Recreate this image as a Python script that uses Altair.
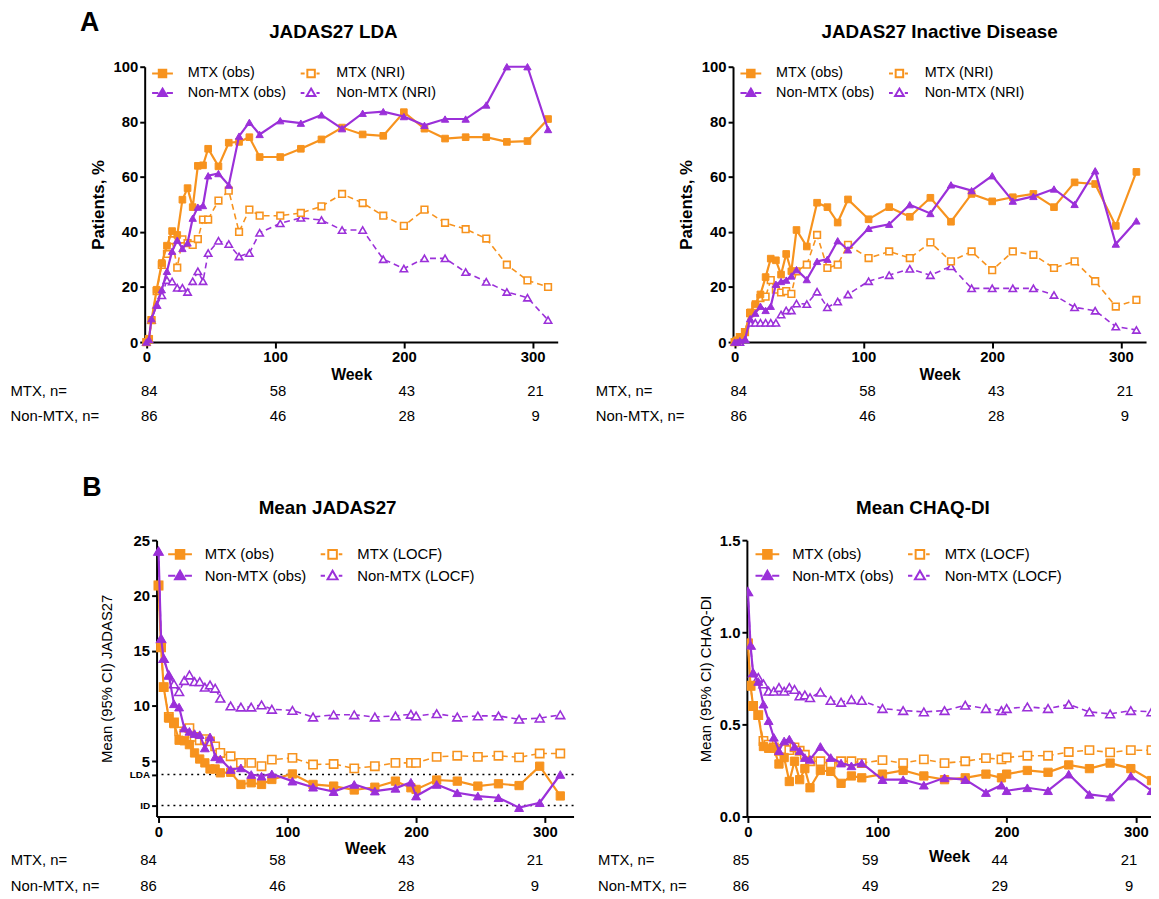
import altair as alt
import pandas as pd

FONT = "Arial"
ORANGE = "#F7931E"
PURPLE = "#9B30D9"
BLACK = "#000000"

# ---------------- data ----------------
WEEKS_A = [0, 2, 4, 8, 12, 16, 20, 24, 28, 32, 36, 40, 44, 48, 56, 64, 72, 80, 88,
           104, 120, 136, 152, 168, 184, 200, 216, 232, 248, 264, 280, 296, 312]
WEEKS_B = [0, 2, 4, 8, 12, 16, 20, 24, 28, 32, 36, 40, 44, 48, 56, 64, 72, 80, 88,
           104, 120, 136, 152, 168, 184, 196, 200, 216, 232, 248, 264, 280, 296, 312]

LDA_MTX_OBS = [0, 1.2, 8, 19, 28.7, 35, 40.3, 38.9, 51.7, 55.9, 49, 64, 64.2, 70.2, 63.8,
               72.4, 72.7, 74.4, 67.2, 67.2, 70.2, 73.6, 77.9, 75.4, 74.9, 83.5, 77.5, 73.9,
               74.4, 74.4, 72.7, 73, 81]
LDA_NON_OBS = [0, 1, 8.5, 13.4, 19, 25.7, 33, 37, 34, 36, 45, 49, 49.6, 60.4, 61.2, 57,
               74.8, 79.8, 75.4, 80.4, 79.5, 82.5, 77.5, 83.1, 83.7, 81.9, 78.7, 81, 81,
               86.1, 100, 100, 77.2]
LDA_MTX_NRI = [0, 1, 8, 18.5, 28, 32, 37, 27, 37.3, 35.9, 35.3, 37.4, 44.5, 44.5, 51.4, 55,
               40, 48.1, 45.9, 45.9, 46.9, 49.3, 53.8, 50.5, 45.9, 42.2, 48.1, 43.3, 41,
               37.6, 28.1, 22.4, 20]
LDA_NON_NRI = [0, 1, 8, 13.5, 17, 22.5, 22, 19.7, 19.7, 18.2, 22.1, 25.7, 22.1, 32.3, 36.8,
               35.6, 31.1, 32.3, 39.7, 43.1, 45.1, 44.3, 40.7, 40.7, 30.1, 26.7, 30.4, 30.4,
               25.4, 21.9, 18.2, 16.1, 8]

ID_MTX_OBS = [0, 0.5, 1.8, 3.6, 10.8, 13.8, 17.3, 23.6, 30.3, 29.7, 24.5, 32, 25.7, 40.7,
              34.7, 50.6, 49, 43.4, 51.8, 44.6, 49, 45.5, 52.4, 43.7, 53.8, 51.1, 52.6, 53.8,
              49, 58, 57.4, 42.2, 61.8]
ID_NON_OBS = [0, 0, 0.5, 1, 8.5, 10.5, 13, 11.5, 13, 21, 22, 22.5, 24, 26.3, 22.7, 29.3,
              30.1, 36.8, 33.5, 41.3, 42.8, 49.9, 46.7, 57.1, 55, 60.4, 51.2, 52.9, 55.6, 50,
              62.2, 35.6, 44]
ID_MTX_NRI = [0, 0.5, 1.8, 3.6, 10.5, 13, 16, 16.5, 22.5, 19, 18, 18.5, 17.5, 25.7, 28.1,
              38.9, 26.9, 28.1, 35.3, 30.5, 32.9, 30.5, 36.2, 29.3, 32.9, 26.1, 32.9, 31.7,
              26.9, 29.3, 22.1, 12.9, 15.3]
ID_NON_NRI = [0, 0, 0, 1, 7, 7, 7, 7, 7, 7, 10, 11.5, 11.5, 14, 13.8, 18.3, 12.6, 14.7,
              17.3, 22.1, 24.3, 26.6, 24.3, 27.5, 19.5, 19.5, 19.5, 19.5, 17.1, 12.6, 11.4,
              5.6, 4.4]

JAD_MTX_OBS = [20.9, 15.3, 11.7, 8.9, 8.4, 6.9, 6.85, 6.5, 5.75, 5.2, 4.85, 4.3, 4.3, 3.95,
               4.0, 2.9, 3.05, 2.9, 3.35, 3.85, 2.9, 2.75, 2.4, 2.65, 3.2, 2.6, 2.45, 3.3,
               3.2, 2.75, 2.96, 2.8, 4.55, 1.86]
JAD_NON_OBS = [24, 16.1, 14.3, 12.8, 10.2, 9.9, 8.0, 7.7, 7.5, 7.4, 6.2, 7.2, 5.4, 5.2,
               4.25, 4.4, 3.8, 3.65, 3.85, 3.2, 2.65, 2.25, 2.9, 2.3, 2.55, 3.1, 1.85, 2.9,
               2.15, 1.85, 1.7, 0.8, 1.25, 3.8]
JAD_MTX_LOCF = [20.9, 15.3, 11.7, 9.0, 8.5, 7.7, 7.5, 8.0, 7.2, 6.9, 7.0, 6.8, 6.35, 5.75,
                5.45, 4.85, 4.85, 4.55, 5.15, 5.3, 4.7, 4.75, 4.35, 4.55, 4.85, 4.85, 4.85,
                5.4, 5.5, 5.4, 5.5, 5.35, 5.7, 5.7]
JAD_NON_LOCF = [24, 16.1, 14.3, 12.8, 12.0, 11.3, 12.3, 12.8, 12.2, 12.2, 11.7, 11.9, 11.6,
                10.7, 10.0, 9.9, 9.9, 10.1, 9.7, 9.6, 9.0, 9.2, 9.2, 9.0, 9.1, 9.25, 9.1,
                9.3, 9.0, 9.1, 9.1, 8.8, 8.9, 9.2]

CHQ_MTX_OBS = [0.94, 0.71, 0.60, 0.55, 0.38, 0.37, 0.37, 0.285, 0.32, 0.19, 0.30, 0.20,
               0.26, 0.156, 0.25, 0.245, 0.18, 0.22, 0.21, 0.23, 0.25, 0.22, 0.20, 0.21,
               0.23, 0.21, 0.23, 0.25, 0.24, 0.28, 0.26, 0.29, 0.26, 0.195]
CHQ_NON_OBS = [1.22, 0.93, 0.78, 0.733, 0.61, 0.52, 0.43, 0.357, 0.41, 0.42, 0.38, 0.357,
               0.32, 0.31, 0.38, 0.32, 0.29, 0.275, 0.29, 0.20, 0.20, 0.17, 0.21, 0.20,
               0.13, 0.17, 0.14, 0.156, 0.14, 0.23, 0.12, 0.106, 0.22, 0.14]
CHQ_MTX_LOCF = [0.94, 0.71, 0.60, 0.55, 0.41, 0.39, 0.375, 0.357, 0.366, 0.36, 0.375, 0.357,
                0.335, 0.30, 0.30, 0.285, 0.30, 0.30, 0.29, 0.306, 0.29, 0.31, 0.29, 0.30,
                0.317, 0.31, 0.32, 0.33, 0.33, 0.35, 0.36, 0.348, 0.36, 0.36]
CHQ_NON_LOCF = [1.22, 0.93, 0.78, 0.755, 0.72, 0.68, 0.68, 0.70, 0.68, 0.70, 0.69, 0.655,
                0.66, 0.645, 0.675, 0.63, 0.62, 0.635, 0.63, 0.586, 0.575, 0.568, 0.575,
                0.604, 0.586, 0.575, 0.586, 0.595, 0.586, 0.608, 0.568, 0.557, 0.575, 0.568]

N_WEEKS = [0, 100, 200, 300]
N_A_MTX = [84, 58, 43, 21]
N_A_NON = [86, 46, 28, 9]
N_CHQ_MTX = [85, 59, 44, 21]
N_CHQ_NON = [86, 49, 29, 9]
THRESHOLDS = [1, 3.8]

# legend symbols: line + marker drawn as one custom path (unit square coords)
SQ_OBS = "M-1,0H-0.36M0.36,0H1M-0.36,-0.36H0.36V0.36H-0.36Z"
SQ_IMP = "M-1,0H-0.62M0.52,0H0.82M-0.36,-0.36H0.36V0.36H-0.36Z"
TRI_OBS = "M-1,0H-0.4M0.4,0H1M0,-0.42L0.42,0.3H-0.42Z"
TRI_IMP = "M-1,0H-0.64M0.52,0H0.82M0,-0.42L0.42,0.3H-0.42Z"


def make_df(weeks, values):
    return pd.DataFrame({"week": weeks, "value": values})


def panel(weeks, mtx_obs, non_obs, mtx_imp, non_imp, imp_tag, width, height, xdom, ydom,
          yaxis_kw, title, title_pos, week_title_y, n_mtx, n_non, n_dx, n_y,
          row_x, legend_x, legend_y, sym_size, label_size, label_offset, col_pad,
          msize_sq, msize_tri, clip=False, letter=None, thresholds=None):
    x = alt.X("week:Q", scale=alt.Scale(domain=xdom, nice=False, zero=False),
              axis=alt.Axis(values=N_WEEKS, title="Week", titleFontSize=16,
                            titleFontWeight="bold", titleBaseline="middle",
                            titleY=week_title_y, labelFontSize=15, labelFontWeight="bold",
                            labelPadding=2, tickSize=6, tickWidth=2, domainWidth=2,
                            labelFlush=False, labelOverlap=False))
    y = alt.Y("value:Q", scale=alt.Scale(domain=ydom, nice=False, zero=False),
              axis=alt.Axis(**yaxis_kw))
    mk = {"clip": True} if clip else {}

    def line(vals, color, dashed):
        kw = dict(color=color, strokeWidth=1.6 if dashed else 2.2, **mk)
        if dashed:
            kw["strokeDash"] = [6, 4]
        return alt.Chart(make_df(weeks, vals)).mark_line(**kw).encode(x=x, y=y)

    def pts(vals, color, shape, filled, size):
        return alt.Chart(make_df(weeks, vals)).mark_point(
            shape=shape, filled=True, fill=color if filled else "white", stroke=color,
            strokeWidth=1 if filled else 1.6, size=size, opacity=1, **mk).encode(x=x, y=y)

    layers = []
    if thresholds:
        layers.append(alt.Chart(pd.DataFrame({"value": thresholds})).mark_rule(
            color=BLACK, strokeDash=[2, 4], strokeWidth=1.5).encode(y=y))
    layers += [
        line(non_imp, PURPLE, True), pts(non_imp, PURPLE, "triangle-up", False, msize_tri),
        line(mtx_imp, ORANGE, True), pts(mtx_imp, ORANGE, "square", False, msize_sq),
        line(mtx_obs, ORANGE, False), pts(mtx_obs, ORANGE, "square", True, msize_sq),
        line(non_obs, PURPLE, False), pts(non_obs, PURPLE, "triangle-up", True, msize_tri),
    ]

    # legend entries are laid out column by column
    labels = ["MTX (obs)", "Non-MTX (obs)", f"MTX ({imp_tag})", f"Non-MTX ({imp_tag})"]
    leg = alt.Legend(title=None, orient="none", legendX=legend_x, legendY=legend_y,
                     columns=2, symbolSize=sym_size, symbolStrokeWidth=2,
                     labelFontSize=label_size, labelFont=FONT, labelColor=BLACK,
                     labelOffset=label_offset, columnPadding=col_pad, rowPadding=0,
                     padding=0, labelLimit=300, symbolOpacity=1)
    layers.append(
        alt.Chart(pd.DataFrame({"series": labels}))
        .transform_filter("datum.series == 'none'")
        .mark_point(filled=True, opacity=1, strokeWidth=2)
        .encode(
            shape=alt.Shape("series:N", scale=alt.Scale(domain=labels,
                            range=[SQ_OBS, TRI_OBS, SQ_IMP, TRI_IMP]), legend=leg),
            fill=alt.Fill("series:N", scale=alt.Scale(domain=labels,
                          range=[ORANGE, PURPLE, "white", "white"]), legend=leg),
            stroke=alt.Stroke("series:N", scale=alt.Scale(domain=labels,
                              range=[ORANGE, PURPLE, ORANGE, PURPLE]), legend=leg),
        ))

    # patients-at-risk table under the axis
    for vals, yy in ((n_mtx, n_y[0]), (n_non, n_y[1])):
        layers.append(alt.Chart(pd.DataFrame({"week": N_WEEKS, "n": vals}))
                      .mark_text(fontSize=15, dx=n_dx, baseline="middle")
                      .encode(x=x, y=alt.value(height + yy), text="n:Q"))
    for txt, yy in (("MTX, n=", n_y[0]), ("Non-MTX, n=", n_y[1])):
        layers.append(alt.Chart(pd.DataFrame({"t": [txt]}))
                      .mark_text(fontSize=15, align="left", baseline="middle")
                      .encode(x=alt.value(row_x), y=alt.value(height + yy), text="t:N"))
    # panel title
    layers.append(alt.Chart(pd.DataFrame({"t": [title]}))
                  .mark_text(fontSize=19, fontWeight="bold", baseline="middle")
                  .encode(x=alt.value(title_pos[0]), y=alt.value(title_pos[1]), text="t:N"))
    if letter:
        layers.append(alt.Chart(pd.DataFrame({"t": [letter[0]]}))
                      .mark_text(fontSize=27, fontWeight="bold", baseline="middle")
                      .encode(x=alt.value(letter[1]), y=alt.value(letter[2]), text="t:N"))

    return alt.layer(*layers).properties(width=width, height=height)


pct_axis = dict(values=[0, 20, 40, 60, 80, 100], title="Patients, %", titleFontSize=17,
                titleFontWeight="bold", titleBaseline="middle", titleX=-47,
                labelFontSize=15, labelFontWeight="bold", labelPadding=2, tickSize=5,
                tickWidth=2, domainWidth=2, labelFlush=False)

common_a = dict(weeks=WEEKS_A, imp_tag="NRI", width=417, height=278, xdom=[-1.3, 319.5],
                ydom=[0, 100], yaxis_kw=pct_axis, week_title_y=33,
                n_mtx=N_A_MTX, n_non=N_A_NON, n_y=(49, 75), legend_y=-5, sym_size=441,
                label_size=14.5, label_offset=14, col_pad=10, msize_sq=45, msize_tri=55)

a_left = panel(mtx_obs=LDA_MTX_OBS, non_obs=LDA_NON_OBS, mtx_imp=LDA_MTX_NRI,
               non_imp=LDA_NON_NRI, title="JADAS27 LDA", title_pos=(190.5, -35), n_dx=3,
               row_x=-135.5, legend_x=6.5, letter=("A", -55.5, -44), **common_a)
a_right = panel(mtx_obs=ID_MTX_OBS, non_obs=ID_NON_OBS, mtx_imp=ID_MTX_NRI,
                non_imp=ID_NON_NRI, title="JADAS27 Inactive Disease",
                title_pos=(208.5, -35), n_dx=4, row_x=-138.5, legend_x=6.5, **common_a)

jad_axis = dict(values=[1, 3.8, 5, 10, 15, 20, 25], title="Mean (95% CI) JADAS27",
                titleFontSize=15, titleFontWeight="normal", titleBaseline="middle",
                titleX=-50.6, labelFontSize={"condition": {"test": "datum.value < 4",
                                                           "value": 10}, "value": 15},
                labelFontWeight="bold", labelPadding=2, tickSize=5, tickWidth=2,
                domainWidth=2, labelFlush=False, labelOverlap=False,
                labelExpr="datum.value == 1 ? 'ID' : (datum.value == 3.8 ? 'LDA' : datum.label)")
chq_axis = dict(values=[0, 0.5, 1, 1.5], format=".1f", title="Mean (95% CI) CHAQ-DI",
                titleFontSize=15, titleFontWeight="normal", titleBaseline="middle",
                titleX=-42, labelFontSize=15, labelFontWeight="bold", labelPadding=2,
                tickSize=5, tickWidth=2, domainWidth=2, labelFlush=False)

common_b = dict(weeks=WEEKS_B, imp_tag="LOCF", height=279, n_y=(44, 70),
                legend_y=1, sym_size=576, label_size=15, label_offset=12, col_pad=10,
                msize_sq=70, msize_tri=80)

b_left = panel(mtx_obs=JAD_MTX_OBS, non_obs=JAD_NON_OBS, mtx_imp=JAD_MTX_LOCF,
               non_imp=JAD_NON_LOCF, width=421, xdom=[-1.5, 322.3], ydom=[0, 25],
               yaxis_kw=jad_axis, title="Mean JADAS27", title_pos=(172.7, -32),
               week_title_y=32, n_mtx=N_A_MTX, n_non=N_A_NON, n_dx=-10, row_x=-147.3,
               legend_x=10.7, letter=("B", -65.3, -53), thresholds=THRESHOLDS, **common_b)
b_right = panel(mtx_obs=CHQ_MTX_OBS, non_obs=CHQ_NON_OBS, mtx_imp=CHQ_MTX_LOCF,
                non_imp=CHQ_NON_LOCF, width=408, xdom=[-0.8, 311.6], ydom=[0, 1.5],
                yaxis_kw=chq_axis, title="Mean CHAQ-DI", title_pos=(177.7, -32),
                week_title_y=40, n_mtx=N_CHQ_MTX, n_non=N_CHQ_NON, n_dx=-7,
                row_x=-150.3, legend_x=7.7, clip=True, **common_b)

spacer = alt.Chart(pd.DataFrame({"s": [0]})).mark_point(opacity=0).properties(width=12, height=10)

ind = dict(shape="independent", fill="independent", stroke="independent")

row_a = alt.hconcat(a_left, a_right, spacing=177, bounds="flush").resolve_scale(**ind)
row_b_inner = alt.hconcat(b_left, b_right, spacing=175, bounds="flush").resolve_scale(**ind)
row_b = alt.hconcat(spacer, row_b_inner, spacing=0, bounds="flush").resolve_scale(**ind)

chart = (
    alt.vconcat(row_a, row_b, spacing=478, bounds="flush")
    .resolve_scale(**ind)
    .properties(padding={"left": 2, "top": -3, "right": 0, "bottom": 0})
    .configure_view(stroke=None)
    .configure_axis(domainColor=BLACK, tickColor=BLACK, labelColor=BLACK,
                    titleColor=BLACK, labelFont=FONT, titleFont=FONT, grid=False)
    .configure_text(font=FONT, color=BLACK)
    .configure_legend(labelFont=FONT)
)

chart.save("out.html", embed_options={"renderer": "svg", "actions": False})
